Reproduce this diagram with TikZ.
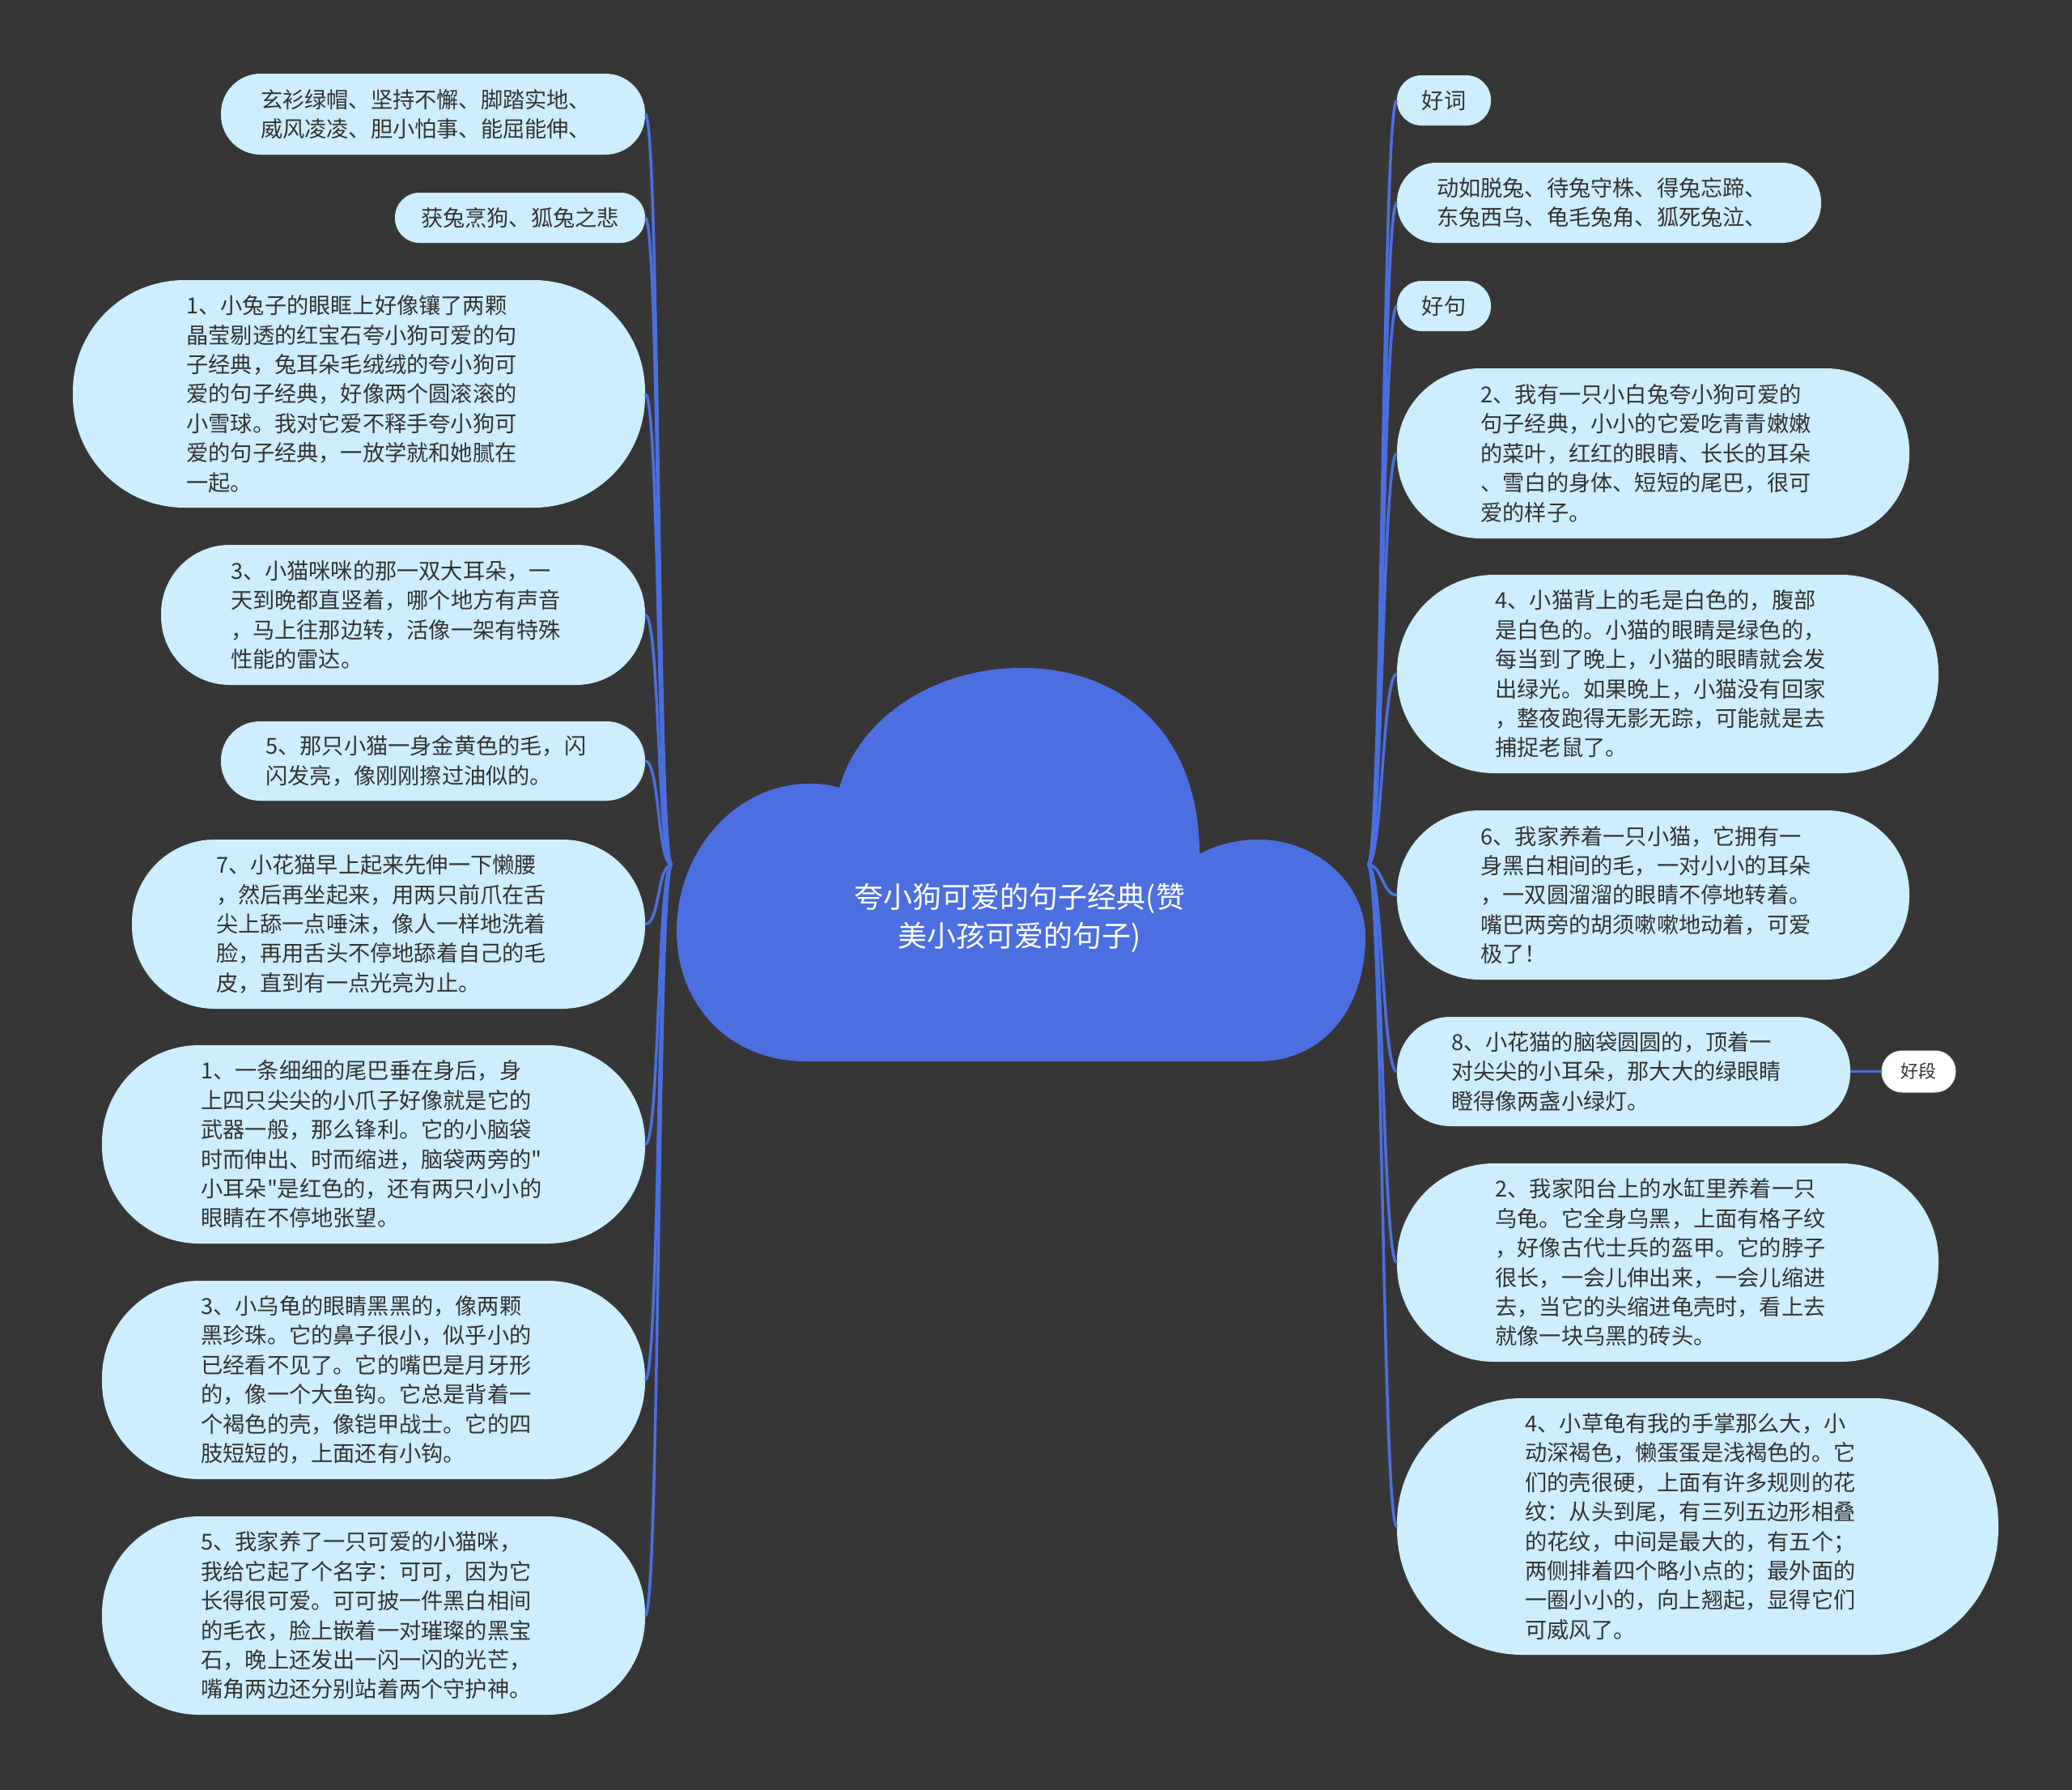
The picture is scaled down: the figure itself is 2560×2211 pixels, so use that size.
\documentclass[tikz,border=0pt]{standalone}
\usepackage{fontspec}
\setmainfont{Noto Sans CJK SC}
\newfontfamily\cjk{Noto Sans CJK SC}
\definecolor{bgc}{RGB}{54,54,54}
\definecolor{lineblue}{RGB}{75,111,224}
\definecolor{nodefill}{RGB}{204,238,255}
\definecolor{txt}{RGB}{51,51,51}
\begin{document}
\begin{tikzpicture}[x=1pt,y=-1pt,
  pill/.style n args={2}{fill=nodefill, text=txt, minimum width=#1, minimum height=#2,
    rounded corners=0.49*#2, inner sep=0pt, align=left, font=\cjk\fontsize{27.2}{36.4}\selectfont},
  wide/.style={text width=426pt},
  conn/.style={draw=lineblue, line width=3.5pt},
  titlestyle/.style={text=white, align=center, font=\cjk\fontsize{36}{48}\selectfont}]
\fill[bgc] (0,0) rectangle (2560,2211);
\useasboundingbox (0,0) rectangle (2560,2211);
% cloud
\fill[lineblue] (996,1311) -- (1553,1311)
  .. controls (1640,1311) and (1687,1240) .. (1687,1157)
  .. controls (1687,1090) and (1625,1037) .. (1555,1037)
  .. controls (1525,1037) and (1500,1045) .. (1482,1055)
  .. controls (1482,900) and (1380,825) .. (1263,825)
  .. controls (1150,825) and (1060,890) .. (1037,973)
  .. controls (1025,969) and (1012,968) .. (1000,968)
  .. controls (910,968) and (836,1050) .. (836,1150)
  .. controls (836,1240) and (900,1311) .. (996,1311) -- cycle;
\node[titlestyle] (title) at (1260,1134) {夸小狗可爱的句子经典(赞\\美小孩可爱的句子)};
\coordinate (cL) at (830,1068);
\coordinate (cR) at (1690,1068);
% left nodes
\node[pill={524pt}{100pt}, wide] (L1) at (535,141) {玄衫绿帽、坚持不懈、脚踏实地、\\威风凌凌、胆小怕事、能屈能伸、};
\node[pill={309pt}{62pt}] (L2) at (642.5,269) {获兔烹狗、狐兔之悲};
\node[pill={707pt}{281pt}, wide] (L3) at (443.5,486.5) {1、小兔子的眼眶上好像镶了两颗\\晶莹剔透的红宝石夸小狗可爱的句\\子经典，兔耳朵毛绒绒的夸小狗可\\爱的句子经典，好像两个圆滚滚的\\小雪球。我对它爱不释手夸小狗可\\爱的句子经典，一放学就和她腻在\\一起。};
\node[pill={598pt}{173pt}, wide] (L4) at (498,759.5) {3、小猫咪咪的那一双大耳朵，一\\天到晚都直竖着，哪个地方有声音\\，马上往那边转，活像一架有特殊\\性能的雷达。};
\node[pill={524pt}{98pt}, text width=413pt] (L5) at (535,940) {5、那只小猫一身金黄色的毛，闪\\闪发亮，像刚刚擦过油似的。};
\node[pill={634pt}{209pt}, wide] (L6) at (480,1141.5) {7、小花猫早上起来先伸一下懒腰\\，然后再坐起来，用两只前爪在舌\\尖上舔一点唾沫，像人一样地洗着\\脸，再用舌头不停地舔着自己的毛\\皮，直到有一点光亮为止。};
\node[pill={671pt}{245pt}, wide] (L7) at (461.5,1413.5) {1、一条细细的尾巴垂在身后，身\\上四只尖尖的小爪子好像就是它的\\武器一般，那么锋利。它的小脑袋\\时而伸出、时而缩进，脑袋两旁的"\\小耳朵"是红色的，还有两只小小的\\眼睛在不停地张望。};
\node[pill={671pt}{245pt}, wide] (L8) at (461.5,1704.5) {3、小乌龟的眼睛黑黑的，像两颗\\黑珍珠。它的鼻子很小，似乎小的\\已经看不见了。它的嘴巴是月牙形\\的，像一个大鱼钩。它总是背着一\\个褐色的壳，像铠甲战士。它的四\\肢短短的，上面还有小钩。};
\node[pill={671pt}{245pt}, wide] (L9) at (461.5,1995.5) {5、我家养了一只可爱的小猫咪，\\我给它起了个名字：可可，因为它\\长得很可爱。可可披一件黑白相间\\的毛衣，脸上嵌着一对璀璨的黑宝\\石，晚上还发出一闪一闪的光芒，\\嘴角两边还分别站着两个守护神。};
% right nodes
\node[pill={116pt}{62pt}] (R1) at (1784,124) {好词};
\node[pill={524pt}{99pt}, wide] (R2) at (1988,250.5) {动如脱兔、待兔守株、得兔忘蹄、\\东兔西乌、龟毛兔角、狐死兔泣、};
\node[pill={116pt}{62pt}] (R3) at (1784,378) {好句};
\node[pill={633pt}{210pt}, wide] (R4) at (2042.5,560) {2、我有一只小白兔夸小狗可爱的\\句子经典，小小的它爱吃青青嫩嫩\\的菜叶，红红的眼睛、长长的耳朵\\、雪白的身体、短短的尾巴，很可\\爱的样子。};
\node[pill={669pt}{245pt}, wide] (R5) at (2060.5,832.5) {4、小猫背上的毛是白色的，腹部\\是白色的。小猫的眼睛是绿色的，\\每当到了晚上，小猫的眼睛就会发\\出绿光。如果晚上，小猫没有回家\\，整夜跑得无影无踪，可能就是去\\捕捉老鼠了。};
\node[pill={633pt}{209pt}, wide] (R6) at (2042.5,1105.5) {6、我家养着一只小猫，它拥有一\\身黑白相间的毛，一对小小的耳朵\\，一双圆溜溜的眼睛不停地转着。\\嘴巴两旁的胡须嗽嗽地动着，可爱\\极了！};
\node[pill={560pt}{135pt}, wide] (R7) at (2006,1323.5) {8、小花猫的脑袋圆圆的，顶着一\\对尖尖的小耳朵，那大大的绿眼睛\\瞪得像两盏小绿灯。};
\node[pill={91pt}{51pt}, fill=white, draw=white!85!gray, line width=1pt, font=\cjk\fontsize{22}{28}\selectfont] (R8) at (2370.5,1323.5) {好段};
\node[pill={669pt}{245pt}, wide] (R9) at (2060.5,1559.5) {2、我家阳台上的水缸里养着一只\\乌龟。它全身乌黑，上面有格子纹\\，好像古代士兵的盔甲。它的脖子\\很长，一会儿伸出来，一会儿缩进\\去，当它的头缩进龟壳时，看上去\\就像一块乌黑的砖头。};
\node[pill={743pt}{317pt}, wide] (R10) at (2097.5,1885.5) {4、小草龟有我的手掌那么大，小\\动深褐色，懒蛋蛋是浅褐色的。它\\们的壳很硬，上面有许多规则的花\\纹：从头到尾，有三列五边形相叠\\的花纹，中间是最大的，有五个；\\两侧排着四个略小点的；最外面的\\一圈小小的，向上翘起，显得它们\\可威风了。};
% connectors
\foreach \n in {L1,L2,L3,L4,L5,L6,L7,L8,L9}
  \draw[conn] (cL) .. controls +(-18,0) and +(18,0) .. (\n.east);
\foreach \n in {R1,R2,R3,R4,R5,R6,R7,R9,R10}
  \draw[conn] (cR) .. controls +(18,0) and +(-18,0) .. (\n.west);
\draw[conn] (R7.east) -- (R8.west);
\end{tikzpicture}
\end{document}
